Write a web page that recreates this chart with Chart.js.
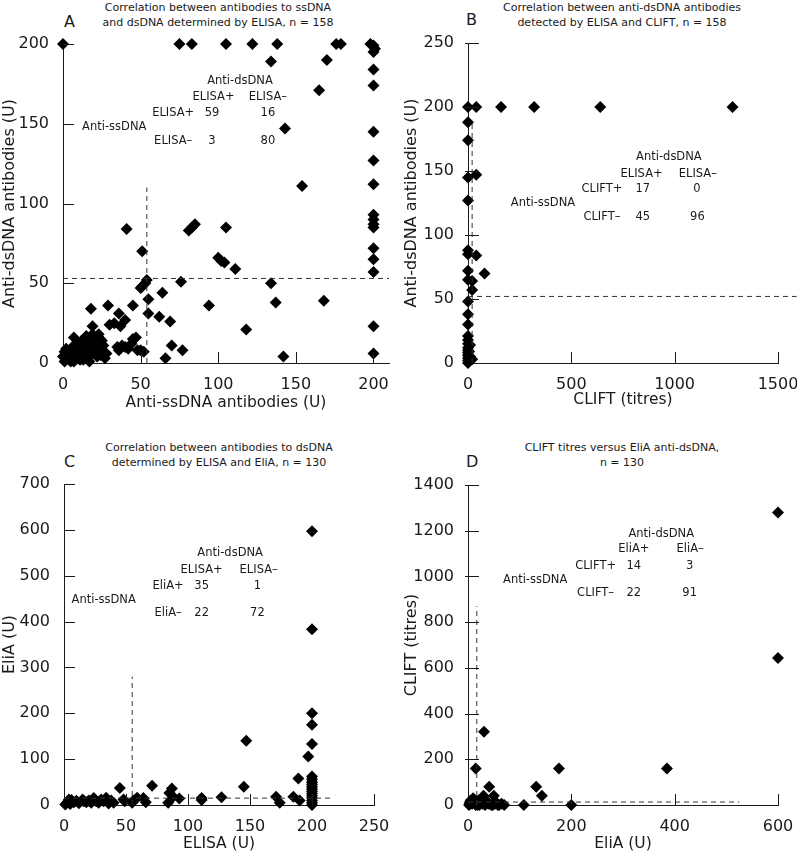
<!DOCTYPE html>
<html>
<head>
<meta charset="utf-8">
<script src="https://cdn.jsdelivr.net/npm/chart.js@4.4.1/dist/chart.umd.min.js"></script>
<style>
  body { margin: 0; background: #fff; width: 797px; height: 853px; position: relative; overflow: hidden;
         font-family: "DejaVu Sans", sans-serif; color: #1a1a1a; }
  canvas { position: absolute; }
  .t { position: absolute; font-size: 11px; line-height: 15px; text-align: center; transform: translateX(-50%); white-space: nowrap; }
  .l { position: absolute; font-size: 16px; line-height: 18px; }
</style>
</head>
<body>
<div class="t" style="left:218px;top:0">Correlation between antibodies to ssDNA<br>and dsDNA determined by ELISA, n = 158</div>
<div class="l" style="left:64px;top:13px">A</div>
<div class="t" style="left:622px;top:0">Correlation between anti-dsDNA antibodies<br>detected by ELISA and CLIFT, n = 158</div>
<div class="l" style="left:466px;top:11px">B</div>
<div class="t" style="left:219px;top:440px">Correlation between antibodies to dsDNA<br>determined by ELISA and EliA, n = 130</div>
<div class="l" style="left:64px;top:453px">C</div>
<div class="t" style="left:622px;top:440px">CLIFT titres versus EliA anti-dsDNA,<br>n = 130</div>
<div class="l" style="left:466px;top:453px">D</div>

<canvas id="chartA" width="398" height="418" style="left:0;top:0"></canvas>
<canvas id="chartB" width="399" height="418" style="left:398px;top:0"></canvas>
<canvas id="chartC" width="398" height="435" style="left:0;top:418px"></canvas>
<canvas id="chartD" width="399" height="435" style="left:398px;top:418px"></canvas>

<script>
"use strict";

// A: anti-ssDNA (x) vs anti-dsDNA (y), ELISA
var aPoints = [
  [0,200],[75,200],[83,200],[105,200],[122,200],[138,200],[176,200],[179,200],[198,200],[200,199],[201,197],[200,195],
  [134,189],[170,190],[165,171],[143,147],[154,111],
  [200,184],[200,174],[200,145],[200,127],[200,112],[200,93],[200,90],[200,87],[200,85],[200,72],[200,65],[200,57],[200,23],[200,6],
  [41,84],[51,70],[81,83],[83,85],[85,87],[105,85],[100,66],[102,64],[104,63],[111,59],[76,51],[134,50],[137,38],[168,39],
  [94,36],[118,21],[142,4],[64,44],[55,40],[55,31],[62,29],[69,26],[70,11],[77,8],[66,3],[54,52],[53,50],[51,48],[50,47],
  [50,8],[52,7],[48,8],[45,15],[47,16],[45,36],[40,27],[36,31],[29,36],[37,23],[33,25],[18,34],[19,23],[7,16],
  [35,10],[38,11],[42,9],[40,10],[36,8],[44,12],[30,24],
  [2,3],[3,6],[4,2],[5,8],[6,4],[1,1],[2,9],[8,5],[9,3],[10,7],[11,2],[12,9],[13,5],[14,12],[15,8],[16,3],[17,14],
  [18,10],[19,6],[20,16],[21,12],[22,4],[23,9],[24,15],[25,7],[26,11],[27,3],[15,17],[17,1],[19,18],[21,15],[18,12],
  [16,7],[20,9],[22,13],[24,5],[13,2],[10,12],[6,10],[4,5],[7,1],[9,8],[11,6],[14,4],[28,6],[25,14],[23,18],[12,14],
  [3,4],[0,4],[1,7],[5,1]
];
var aXTicks = [0, 50, 100, 150, 200];
var aYTicks = [0, 50, 100, 150, 200];
var aCutV = [[54,0],[54,110]];
var aCutH = [[0,53],[210,53]];

// B: CLIFT titres (x) vs anti-dsDNA ELISA (y)
var bPoints = [
  [0,200],[40,200],[160,200],[320,200],[640,200],[1280,200],
  [0,188],[0,174],[0,145],[40,147],[0,127],[0,88],[0,85],[40,84],[80,70],[0,72],[0,65],[20,64],[20,57],
  [0,48],[0,38],[0,30],[0,21],[0,18],[0,15],[0,12],[0,10],[0,8],[0,6],[0,4],[0,2],[0,0],[10,14],[10,5],[5,9],[20,3]
];
var bXTicks = [0, 500, 1000, 1500];
var bYTicks = [0, 50, 100, 150, 200, 250];
var bCutV = [[20,0],[20,190]];
var bCutH = [[0,52],[1590,52]];

// C: ELISA (x) vs EliA (y)
var cPoints = [
  [200,597],[200,383],[200,200],[200,175],[200,133],[197,106],[200,62],[200,56],[200,50],[200,45],[200,40],[200,35],
  [200,30],[200,25],[200,20],[200,15],[200,10],[200,5],[200,0],[147,140],[145,40],[189,58],[185,18],[190,10],[171,18],
  [174,5],[127,17],[111,15],[111,11],[93,14],[87,36],[85,26],[84,5],[88,18],[71,42],[66,6],[64,15],[59,16],[56,10],
  [45,37],[49,8],[48,12],[34,16],[36,3],[30,12],[26,8],[24,15],[22,5],[20,10],[18,6],[15,12],[12,4],[10,9],[8,6],
  [6,11],[5,2],[3,7],[2,4],[1,1],[40,5],[38,10],[28,5],[16,8],[4,12],[32,8],[55,5]
];
var cXTicks = [0, 50, 100, 150, 200, 250];
var cYTicks = [0, 100, 200, 300, 400, 500, 600, 700];
var cCutV = [[55,0],[55,280]];
var cCutH = [[0,15],[217,15]];

// D: EliA (x) vs CLIFT titres (y)
var dPoints = [
  [600,1280],[600,643],[385,160],[176,160],[15,160],[31,320],[132,80],[143,40],[108,0],[200,0],[41,80],[50,40],
  [5,20],[10,30],[20,20],[25,10],[30,40],[35,20],[40,5],[45,0],[55,10],[60,0],[65,5],[70,0],[2,0],[8,5],[12,10],
  [18,0],[22,0],[28,5],[33,0],[38,10],[48,0],[52,5],[58,0],[15,0],[3,10]
];
var dXTicks = [0, 200, 400, 600];
var dYTicks = [0, 200, 400, 600, 800, 1000, 1200, 1400];
var dCutV = [[17,0],[17,870]];
var dCutH = [[0,13],[525,13]];

// 2x2 contingency tables drawn inside the plots (text, x, y in data units)
var aNotes = [
  ["Anti-dsDNA",114,177],["ELISA+",97,167],["ELISA\u2013",132,167],
  ["ELISA+",71,157],["59",96,157],["16",132,157],
  ["Anti-ssDNA",33,148],
  ["ELISA\u2013",71,139],["3",96,139],["80",132,139]
];
var bNotes = [
  ["Anti-dsDNA",972,161],["ELISA+",840,148],["ELISA\u2013",1112,148],
  ["CLIFT+",648,136],["17",846,136],["0",1108,136],
  ["Anti-ssDNA",363,125],
  ["CLIFT\u2013",648,114],["45",846,114],["96",1110,114]
];
var cNotes = [
  ["Anti-dsDNA",134,549],["ELISA+",111,512],["ELISA\u2013",157,512],
  ["EliA+",84,477],["35",111,477],["1",156,477],
  ["Anti-ssDNA",32,447],
  ["EliA\u2013",84,419],["22",111,419],["72",156,419]
];
var dNotes = [
  ["Anti-dsDNA",374,1185],["EliA+",321,1120],["EliA\u2013",430,1120],
  ["CLIFT+",247,1045],["14",321,1045],["3",429,1045],
  ["Anti-ssDNA",130,984],
  ["CLIFT\u2013",247,927],["22",321,927],["91",429,927]
];

var fontFam = '"DejaVu Sans", sans-serif';
var ink = '#1a1a1a';

function toXY(pairs) {
  return pairs.map(function (p) { return { x: p[0], y: p[1] }; });
}

// draws inward tick marks and the in-plot table text
function makeDecor(notes, yOuter) {
  return {
    id: 'decor',
    afterDraw: function (chart) {
      var ctx = chart.ctx, xs = chart.scales.x, ys = chart.scales.y;
      ctx.save();
      ctx.strokeStyle = ink;
      ctx.lineWidth = 1;
      ctx.beginPath();
      xs.ticks.forEach(function (t) {
        if (t.value === 0) return;
        var px = Math.round(xs.getPixelForValue(t.value)) + 0.5;
        ctx.moveTo(px, ys.bottom);
        ctx.lineTo(px, ys.bottom - 11);
      });
      ys.ticks.forEach(function (t) {
        if (t.value === 0) return;
        var py = Math.round(ys.getPixelForValue(t.value)) + 0.5;
        ctx.moveTo(xs.left - yOuter, py);
        ctx.lineTo(xs.left + 11, py);
      });
      ctx.stroke();
      ctx.fillStyle = ink;
      ctx.font = '11.5px ' + fontFam;
      ctx.textAlign = 'center';
      ctx.textBaseline = 'middle';
      notes.forEach(function (n) {
        ctx.fillText(n[0], xs.getPixelForValue(n[1]), ys.getPixelForValue(n[2]));
      });
      ctx.restore();
    }
  };
}

function plain(v) { return String(v); }

function panel(id, p) {
  var cut = {
    showLine: true, borderColor: '#333', borderWidth: 1, borderDash: [5, 4],
    pointRadius: 0, pointHoverRadius: 0, clip: false, fill: false
  };
  return new Chart(document.getElementById(id).getContext('2d'), {
    type: 'scatter',
    data: {
      datasets: [
        Object.assign({ data: toXY(p.cutV) }, cut),
        Object.assign({ data: toXY(p.cutH) }, cut),
        {
          data: toXY(p.points),
          pointStyle: 'rectRot',
          pointRadius: 6,
          pointHoverRadius: 6,
          backgroundColor: '#000',
          borderWidth: 0,
          clip: false
        }
      ]
    },
    options: {
      responsive: false,
      animation: { duration: 0 },
      events: [],
      layout: { padding: { left: 0, top: p.top, right: p.right, bottom: 0 } },
      plugins: { legend: { display: false }, tooltip: { enabled: false } },
      scales: {
        x: {
          type: 'linear', min: 0, max: p.xMax,
          afterBuildTicks: function (s) { s.ticks = p.xTicks.map(function (v) { return { value: v }; }); },
          afterFit: function (s) { s.height = p.xHeight; s.paddingLeft = 0; s.paddingRight = 0; },
          grid: { display: false },
          border: { display: true, color: ink, width: 1 },
          ticks: { color: ink, padding: 4, maxRotation: 0, callback: plain, font: { family: fontFam, size: 16 } },
          title: { display: true, text: p.xTitle, color: ink, padding: { top: 0, bottom: p.xTitlePad },
                   font: { family: fontFam, size: 15.5 } }
        },
        y: {
          type: 'linear', min: 0, max: p.yMax,
          afterBuildTicks: function (s) { s.ticks = p.yTicks.map(function (v) { return { value: v }; }); },
          afterFit: function (s) { s.width = p.yWidth; s.paddingTop = 0; s.paddingBottom = 0; },
          grid: { display: false },
          border: { display: true, color: ink, width: 1 },
          ticks: { color: ink, padding: 6, callback: plain, font: { family: fontFam, size: 16 } },
          title: { display: true, text: p.yTitle, color: ink, padding: { top: p.yTitlePad, bottom: 0 },
                   font: { family: fontFam, size: 16 } }
        }
      }
    },
    plugins: [makeDecor(p.notes, p.yOuter)]
  });
}

panel('chartA', {
  points: aPoints, xTicks: aXTicks, yTicks: aYTicks, cutV: aCutV, cutH: aCutH, notes: aNotes,
  xMax: 210, yMax: 200, top: 44, right: 9, yWidth: 63, xHeight: 55, yOuter: 0,
  xTitle: 'Anti-ssDNA antibodies (U)', yTitle: 'Anti-dsDNA antibodies (U)', xTitlePad: 6, yTitlePad: 0
});

panel('chartB', {
  points: bPoints, xTicks: bXTicks, yTicks: bYTicks, cutV: bCutV, cutH: bCutH, notes: bNotes,
  xMax: 1500, yMax: 250, top: 43, right: 19, yWidth: 70, xHeight: 55, yOuter: 3,
  xTitle: 'CLIFT (titres)', yTitle: 'Anti-dsDNA antibodies (U)', xTitlePad: 9, yTitlePad: 4
});

panel('chartC', {
  points: cPoints, xTicks: cXTicks, yTicks: cYTicks, cutV: cCutV, cutH: cCutH, notes: cNotes,
  xMax: 250, yMax: 700, top: 66, right: 24, yWidth: 64, xHeight: 48, yOuter: 0,
  xTitle: 'ELISA (U)', yTitle: 'EliA (U)', xTitlePad: 0, yTitlePad: 0
});

panel('chartD', {
  points: dPoints, xTicks: dXTicks, yTicks: dYTicks, cutV: dCutV, cutH: dCutH, notes: dNotes,
  xMax: 600, yMax: 1400, top: 67, right: 19, yWidth: 70, xHeight: 48, yOuter: 3,
  xTitle: 'EliA (U)', yTitle: 'CLIFT (titres)', xTitlePad: 0, yTitlePad: 4
});
</script>
</body>
</html>
